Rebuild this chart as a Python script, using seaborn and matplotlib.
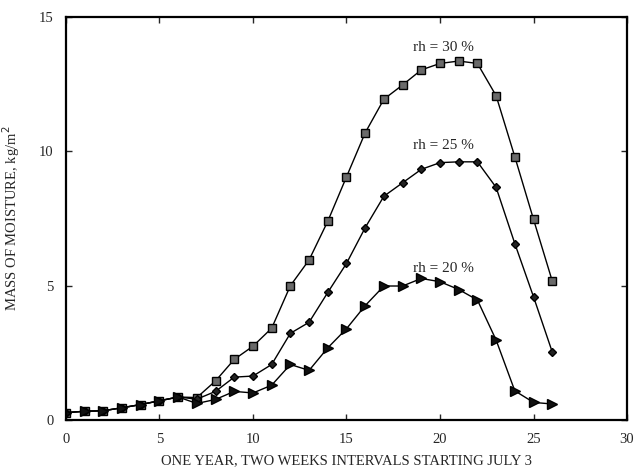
import numpy as np
import pandas as pd
import seaborn as sns
import matplotlib.pyplot as plt

# two-week intervals starting July 3
weeks = list(range(27))

rh30 = [0.28, 0.33, 0.35, 0.46, 0.58, 0.72, 0.86, 0.84, 1.46, 2.26, 2.75, 3.42, 5.0,
        5.96, 7.4, 9.05, 10.69, 11.94, 12.47, 13.03, 13.27, 13.36, 13.27, 12.07,
        9.8, 7.47, 5.18]
rh25 = [0.28, 0.33, 0.35, 0.46, 0.58, 0.72, 0.86, 0.78, 1.07, 1.6, 1.64, 2.07, 3.23,
        3.64, 4.75, 5.83, 7.16, 8.33, 8.83, 9.33, 9.58, 9.61, 9.61, 8.66,
        6.57, 4.59, 2.54]
rh20 = [0.28, 0.33, 0.35, 0.46, 0.58, 0.72, 0.86, 0.62, 0.77, 1.07, 1.01, 1.3, 2.07,
        1.85, 2.69, 3.4, 4.26, 4.99, 4.99, 5.27, 5.15, 4.86, 4.47, 2.98,
        1.09, 0.66, 0.6]
series_names = ['rh = 30 %', 'rh = 25 %', 'rh = 20 %']

df = pd.DataFrame({
    'week': weeks * 3,
    'mass': rh30 + rh25 + rh20,
    'rh': [n for n in series_names for _ in weeks],
})

sns.set_style("ticks")
plt.rcParams['font.family'] = ['Liberation Serif', 'DejaVu Serif']

fig = plt.figure(figsize=(6.34, 4.71), dpi=100)
ax = fig.add_axes([0.104, 0.108, 0.885, 0.856])

markers = {'rh = 30 %': 's', 'rh = 25 %': 'D', 'rh = 20 %': '>'}
sizes = {'rh = 30 %': 5.5, 'rh = 25 %': 4.5, 'rh = 20 %': 6.5}
faces = {'rh = 30 %': '#6a6a6a', 'rh = 25 %': '#222222', 'rh = 20 %': '#111111'}
for name in series_names:
    sub = df[df['rh'] == name]
    sns.lineplot(data=sub, x='week', y='mass', ax=ax, color='black', lw=1.0,
                 marker=markers[name], markersize=sizes[name],
                 markerfacecolor=faces[name], markeredgecolor='black',
                 markeredgewidth=1.0, legend=False)

# curve labels
ax.text(20.2, 13.85, 'rh = 30 %', ha='center', va='center', fontsize=11)
ax.text(20.2, 10.2, 'rh = 25 %', ha='center', va='center', fontsize=11)
ax.text(20.2, 5.65, 'rh = 20 %', ha='center', va='center', fontsize=11)

ax.set_xlim(0, 30)
ax.set_ylim(0, 15)
ax.set_xticks([0, 5, 10, 15, 20, 25, 30])
ax.set_yticks([0, 5, 10, 15])
ax.tick_params(direction='in', length=4, width=1, labelsize=10.5, pad=9,
               top=True, right=True)
for s in ax.spines.values():
    s.set_linewidth(1.6)
    s.set_color('black')

ax.set_xlabel('ONE YEAR, TWO WEEKS INTERVALS STARTING JULY 3', fontsize=10.5, labelpad=6)
ax.set_ylabel('MASS OF MOISTURE, kg/m$^2$', fontsize=10.5, labelpad=12)

plt.savefig('out.png', dpi=100)
